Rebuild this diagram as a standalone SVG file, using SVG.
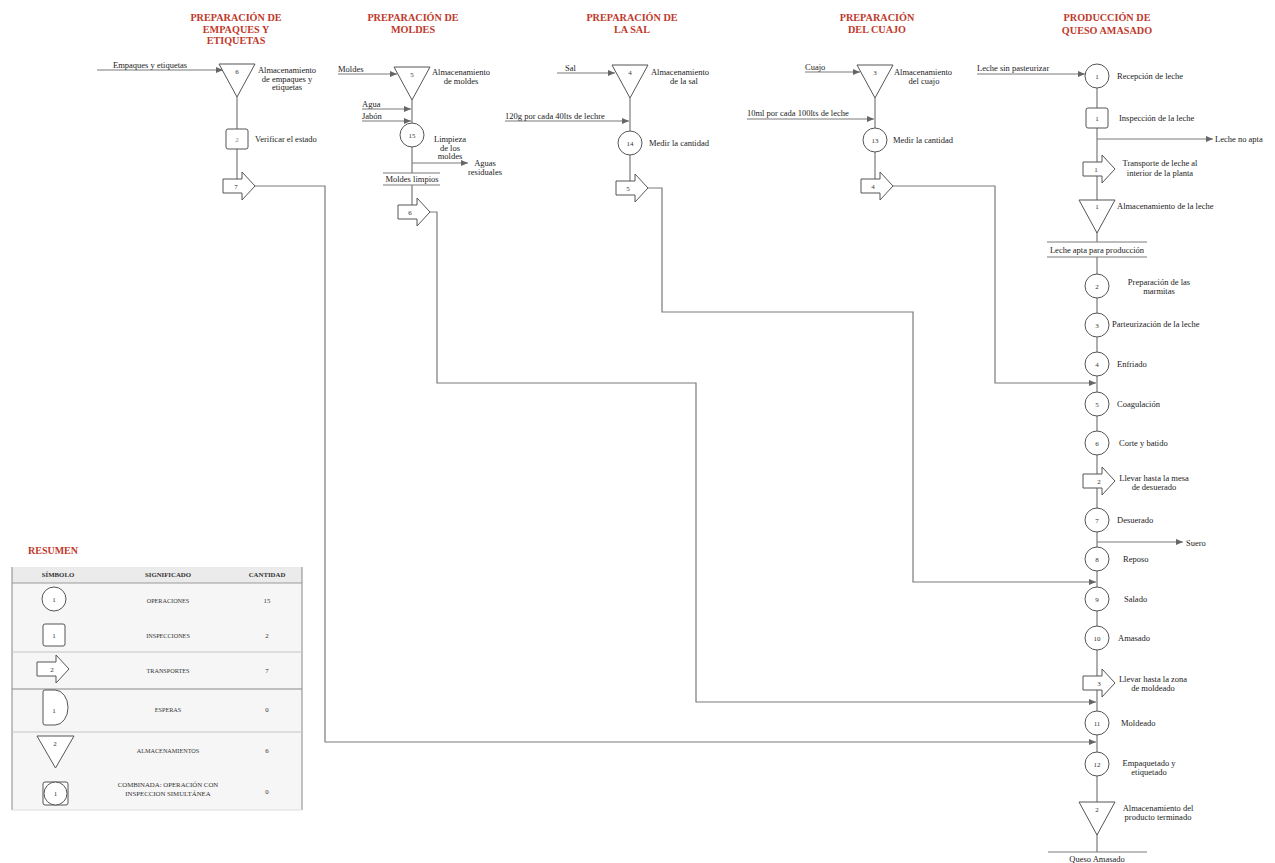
<svg xmlns="http://www.w3.org/2000/svg" xmlns:xlink="http://www.w3.org/1999/xlink" width="1275" height="863" viewBox="0 0 1275 863">
<style>
text{font-family:"Liberation Serif","DejaVu Serif",serif;fill:#222}
.tt{font-size:10.2px;font-weight:bold;fill:#c0392b;text-anchor:middle}
.lb{font-size:8.5px}
.mid{text-anchor:middle}
.num{font-size:7px;text-anchor:middle;fill:#333}
.ln{fill:none;stroke:#7a7a7a;stroke-width:1.2}
.cn{fill:none;stroke:#7a7a7a;stroke-width:1.2;marker-end:url(#ah)}
.sh{fill:#fff;stroke:#555;stroke-width:1}
.th{font-size:6.8px;font-weight:bold;text-anchor:middle;fill:#333}
.td{font-size:6.2px;text-anchor:middle;fill:#333}
.tc{font-size:6.8px;text-anchor:middle;fill:#333}
</style>
<defs>
<marker id="ah" markerUnits="userSpaceOnUse" markerWidth="7" markerHeight="6" refX="7" refY="3" orient="auto"><path d="M0,0 L7,3 L0,6 Z" fill="#666"/></marker>
<path id="tr" d="M-14,-7 H5 V-14 L18,0 L5,14 V7 H-14 Z" fill="#fff" stroke="#555" stroke-width="1" stroke-linejoin="round"/>
<path id="tri" d="M-18,0 H18 L0,33 Z" fill="#fff" stroke="#555" stroke-width="1"/>
<rect id="sq" x="-11" y="-10" width="22" height="20" rx="2" fill="#fff" stroke="#555" stroke-width="1"/>
<circle id="op" r="12" fill="#fff" stroke="#555" stroke-width="1"/>
</defs>
<rect width="1275" height="863" fill="#fff"/>

<!-- titles -->
<g id="titles">
<text class="tt" x="236" y="21">PREPARACIÓN DE</text>
<text class="tt" x="236" y="32.5">EMPAQUES Y</text>
<text class="tt" x="236" y="44">ETIQUETAS</text>
<text class="tt" x="413" y="21">PREPARACIÓN DE</text>
<text class="tt" x="413" y="32.5">MOLDES</text>
<text class="tt" x="632" y="21">PREPARACIÓN DE</text>
<text class="tt" x="632" y="32.5">LA SAL</text>
<text class="tt" x="877" y="21">PREPARACIÓN</text>
<text class="tt" x="877" y="32.5">DEL CUAJO</text>
<text class="tt" x="1107" y="21">PRODUCCIÓN DE</text>
<text class="tt" x="1107" y="33.5">QUESO AMASADO</text>
</g>

<!-- connectors -->
<g id="connectors">
<path class="ln" d="M237,97 V180"/>
<path class="ln" d="M412,100 V173 M412,185 V206"/>
<path class="ln" d="M630,98 V182"/>
<path class="ln" d="M875,98 V180"/>
<path class="ln" d="M1097,88 V242 M1097,257 V852"/>
<path class="ln" d="M1048,852 H1147"/>
<path class="ln" d="M383,173 H440 M383,185 H440"/>
<path class="ln" d="M1047,242 H1147 M1047,257 H1147"/>
<path class="cn" d="M97,70 H223"/>
<path class="cn" d="M338,74 H397"/>
<path class="cn" d="M362,109 H411"/>
<path class="cn" d="M362,121 H411"/>
<path class="cn" d="M412,163 H468"/>
<path class="cn" d="M557,73 H615"/>
<path class="cn" d="M505,121 H629"/>
<path class="cn" d="M805,72 H860"/>
<path class="cn" d="M747,119 H874"/>
<path class="cn" d="M977,74 H1085"/>
<path class="cn" d="M1097,139 H1213"/>
<path class="cn" d="M1097,542 H1183"/>
<path class="cn" d="M255,186 H325 V742 H1096"/>
<path class="cn" d="M430,212 H437 V383 H696 V702 H1096"/>
<path class="cn" d="M648,188 H662 V312 H913 V582 H1096"/>
<path class="cn" d="M893,186 H995 V383 H1096"/>
</g>

<!-- input / output labels -->
<g id="labels">
<text class="lb" x="113" y="68">Empaques y etiquetas</text>
<text class="lb" x="338" y="72">Moldes</text>
<text class="lb" x="362" y="107">Agua</text>
<text class="lb" x="362" y="119">Jabón</text>
<text class="lb mid" x="485" y="166">Aguas</text>
<text class="lb mid" x="485" y="175">residuales</text>
<text class="lb mid" x="412" y="182">Moldes limpios</text>
<text class="lb" x="565" y="71">Sal</text>
<text class="lb" x="505" y="119">120g por cada 40lts de lechre</text>
<text class="lb" x="805" y="70">Cuajo</text>
<text class="lb" x="747" y="116">10ml por cada 100lts de leche</text>
<text class="lb" x="977" y="71">Leche sin pasteurizar</text>
<text class="lb" x="1215" y="142">Leche no apta</text>
<text class="lb mid" x="1097" y="253">Leche apta para producción</text>
<text class="lb" x="1186" y="546">Suero</text>
<text class="lb mid" x="1097" y="862">Queso Amasado</text>
</g>

<!-- Empaques column -->
<g id="n-alm6"><use href="#tri" x="237" y="64"/><text class="num" x="237" y="74">6</text>
<text class="lb mid" x="287" y="73">Almacenamiento</text><text class="lb mid" x="287" y="82">de empaques y</text><text class="lb mid" x="287" y="90">etiquetas</text></g>
<g id="n-ins2"><use href="#sq" x="237" y="139"/><text class="num" x="237" y="141.5" style="fill:#888">2</text>
<text class="lb" x="255" y="142">Verificar el estado</text></g>
<g id="n-tr7"><use href="#tr" x="237" y="186"/><text class="num" x="236" y="188.5">7</text></g>

<!-- Moldes column -->
<g id="n-alm5"><use href="#tri" x="412" y="67"/><text class="num" x="412" y="77">5</text>
<text class="lb mid" x="461" y="75">Almacenamiento</text><text class="lb mid" x="461" y="84">de moldes</text></g>
<g id="n-op15"><use href="#op" x="412" y="135"/><text class="num" x="412" y="137.5">15</text>
<text class="lb mid" x="450" y="142">Limpieza</text><text class="lb mid" x="450" y="151">de los</text><text class="lb mid" x="450" y="159">moldes</text></g>
<g id="n-tr6"><use href="#tr" x="412" y="212"/><text class="num" x="410" y="214.5">6</text></g>

<!-- Sal column -->
<g id="n-alm4"><use href="#tri" x="630" y="65"/><text class="num" x="630" y="75">4</text>
<text class="lb mid" x="680" y="75">Almacenamiento</text><text class="lb mid" x="684" y="84">de la sal</text></g>
<g id="n-op14"><use href="#op" x="630" y="143"/><text class="num" x="630" y="145.5">14</text>
<text class="lb" x="649" y="146">Medir la cantidad</text></g>
<g id="n-tr5"><use href="#tr" x="630" y="188"/><text class="num" x="628" y="190.5">5</text></g>

<!-- Cuajo column -->
<g id="n-alm3"><use href="#tri" x="875" y="65"/><text class="num" x="875" y="75">3</text>
<text class="lb mid" x="923" y="75">Almacenamiento</text><text class="lb mid" x="924" y="84">del cuajo</text></g>
<g id="n-op13"><use href="#op" x="875" y="140"/><text class="num" x="875" y="142.5">13</text>
<text class="lb" x="893" y="143">Medir la cantidad</text></g>
<g id="n-tr4"><use href="#tr" x="875" y="186"/><text class="num" x="873" y="188.5">4</text></g>

<!-- Main column -->
<g id="n-op1"><use href="#op" x="1097" y="76"/><text class="num" x="1097" y="78.5">1</text><text class="lb" x="1117" y="79">Recepción de leche</text></g>
<g id="n-ins1"><use href="#sq" x="1097" y="118"/><text class="num" x="1097" y="120.5">1</text><text class="lb" x="1119" y="121">Inspección de la leche</text></g>
<g id="n-tr1"><use href="#tr" x="1097" y="169"/><text class="num" x="1096" y="171.5">1</text>
<text class="lb mid" x="1160" y="166">Transporte de leche al</text><text class="lb mid" x="1160" y="176">interior de la planta</text></g>
<g id="n-alm1"><use href="#tri" x="1097" y="200"/><text class="num" x="1097" y="209">1</text><text class="lb" x="1117" y="209">Almacenamiento de la leche</text></g>
<g id="n-op2"><use href="#op" x="1097" y="286"/><text class="num" x="1097" y="288.5">2</text>
<text class="lb mid" x="1159" y="285">Preparación de las</text><text class="lb mid" x="1159" y="294">marmitas</text></g>
<g id="n-op3"><use href="#op" x="1097" y="325"/><text class="num" x="1097" y="327.5">3</text><text class="lb" x="1112" y="327">Parteurización de la leche</text></g>
<g id="n-op4"><use href="#op" x="1097" y="364"/><text class="num" x="1097" y="366.5">4</text><text class="lb" x="1117" y="367">Enfriado</text></g>
<g id="n-op5"><use href="#op" x="1097" y="404"/><text class="num" x="1097" y="406.5">5</text><text class="lb" x="1117" y="407">Coagulación</text></g>
<g id="n-op6"><use href="#op" x="1097" y="443"/><text class="num" x="1097" y="445.5">6</text><text class="lb" x="1119" y="446">Corte y batido</text></g>
<g id="n-tr2"><use href="#tr" x="1097" y="481"/><text class="num" x="1099" y="483.5">2</text>
<text class="lb mid" x="1154" y="481">Llevar hasta la mesa</text><text class="lb mid" x="1154" y="490">de desuerado</text></g>
<g id="n-op7"><use href="#op" x="1097" y="520"/><text class="num" x="1097" y="522.5">7</text><text class="lb" x="1117" y="523">Desuerado</text></g>
<g id="n-op8"><use href="#op" x="1097" y="559"/><text class="num" x="1097" y="561.5">8</text><text class="lb" x="1123" y="562">Reposo</text></g>
<g id="n-op9"><use href="#op" x="1097" y="599"/><text class="num" x="1097" y="601.5">9</text><text class="lb" x="1124" y="602">Salado</text></g>
<g id="n-op10"><use href="#op" x="1097" y="638"/><text class="num" x="1097" y="640.5">10</text><text class="lb" x="1118" y="641">Amasado</text></g>
<g id="n-tr3"><use href="#tr" x="1097" y="683"/><text class="num" x="1099" y="685.5">3</text>
<text class="lb mid" x="1153" y="682">Llevar hasta la zona</text><text class="lb mid" x="1153" y="691">de moldeado</text></g>
<g id="n-op11"><use href="#op" x="1097" y="723"/><text class="num" x="1097" y="725.5">11</text><text class="lb" x="1121" y="726">Moldeado</text></g>
<g id="n-op12"><use href="#op" x="1097" y="764"/><text class="num" x="1097" y="766.5">12</text>
<text class="lb mid" x="1149" y="766">Empaquetado y</text><text class="lb mid" x="1149" y="775">etiquetado</text></g>
<g id="n-alm2"><use href="#tri" x="1097" y="802"/><text class="num" x="1097" y="812">2</text>
<text class="lb mid" x="1158" y="811">Almacenamiento del</text><text class="lb mid" x="1158" y="820">producto terminado</text></g>

<!-- Summary table -->
<g id="resumen">
<text x="28" y="554" style="font-size:10px;font-weight:bold;fill:#c0392b">RESUMEN</text>
<rect x="12" y="567" width="290" height="243" fill="#f6f6f6"/>
<rect x="12" y="567" width="290" height="16" fill="#ebebeb"/>
<path d="M12,567 V810 M302,567 V810" stroke="#888" stroke-width="1" fill="none"/>
<path d="M12,583 H302" stroke="#999" stroke-width="1.2"/>
<path d="M12,652 H302" stroke="#c4c4c4" stroke-width="1"/>
<path d="M12,689 H302" stroke="#888" stroke-width="1"/>
<path d="M12,732 H302" stroke="#c4c4c4" stroke-width="1"/>
<path d="M12,810 H302" stroke="#ddd" stroke-width="1"/>
<text class="th" x="58" y="577">SÍMBOLO</text>
<text class="th" x="168" y="577">SIGNIFICADO</text>
<text class="th" x="267" y="577">CANTIDAD</text>
<use href="#op" x="54" y="599"/><text class="num" x="54" y="601.5">1</text>
<text class="td" x="168" y="603">OPERACIONES</text><text class="tc" x="267" y="603">15</text>
<rect x="43" y="624" width="22" height="22" rx="2" class="sh"/><text class="num" x="54" y="637.5">1</text>
<text class="td" x="168" y="638">INSPECCIONES</text><text class="tc" x="267" y="638">2</text>
<use href="#tr" x="51" y="669"/><text class="num" x="52" y="671.5">2</text>
<text class="td" x="168" y="673">TRANSPORTES</text><text class="tc" x="267" y="673">7</text>
<path class="sh" d="M45,690 H55 A13,17.5 0 0 1 55,725 H45 Q43,725 43,723 V692 Q43,690 45,690 Z"/><text class="num" x="54" y="713">1</text>
<text class="td" x="168" y="712">ESPERAS</text><text class="tc" x="267" y="712">0</text>
<path class="sh" d="M37,736 H74 L55.5,768 Z"/><text class="num" x="55" y="745.5">2</text>
<text class="td" x="168" y="753">ALMACENAMIENTOS</text><text class="tc" x="267" y="753">6</text>
<rect x="43" y="782" width="25" height="23" rx="2" class="sh"/><circle cx="55.5" cy="793.5" r="11.5" class="sh"/><text class="num" x="55.5" y="796">1</text>
<text class="tc" x="168" y="787">COMBINADA: OPERACIÓN CON</text>
<text class="tc" x="168" y="796">INSPECCION SIMULTÁNEA</text>
<text class="tc" x="267" y="794">0</text>
</g>
</svg>
